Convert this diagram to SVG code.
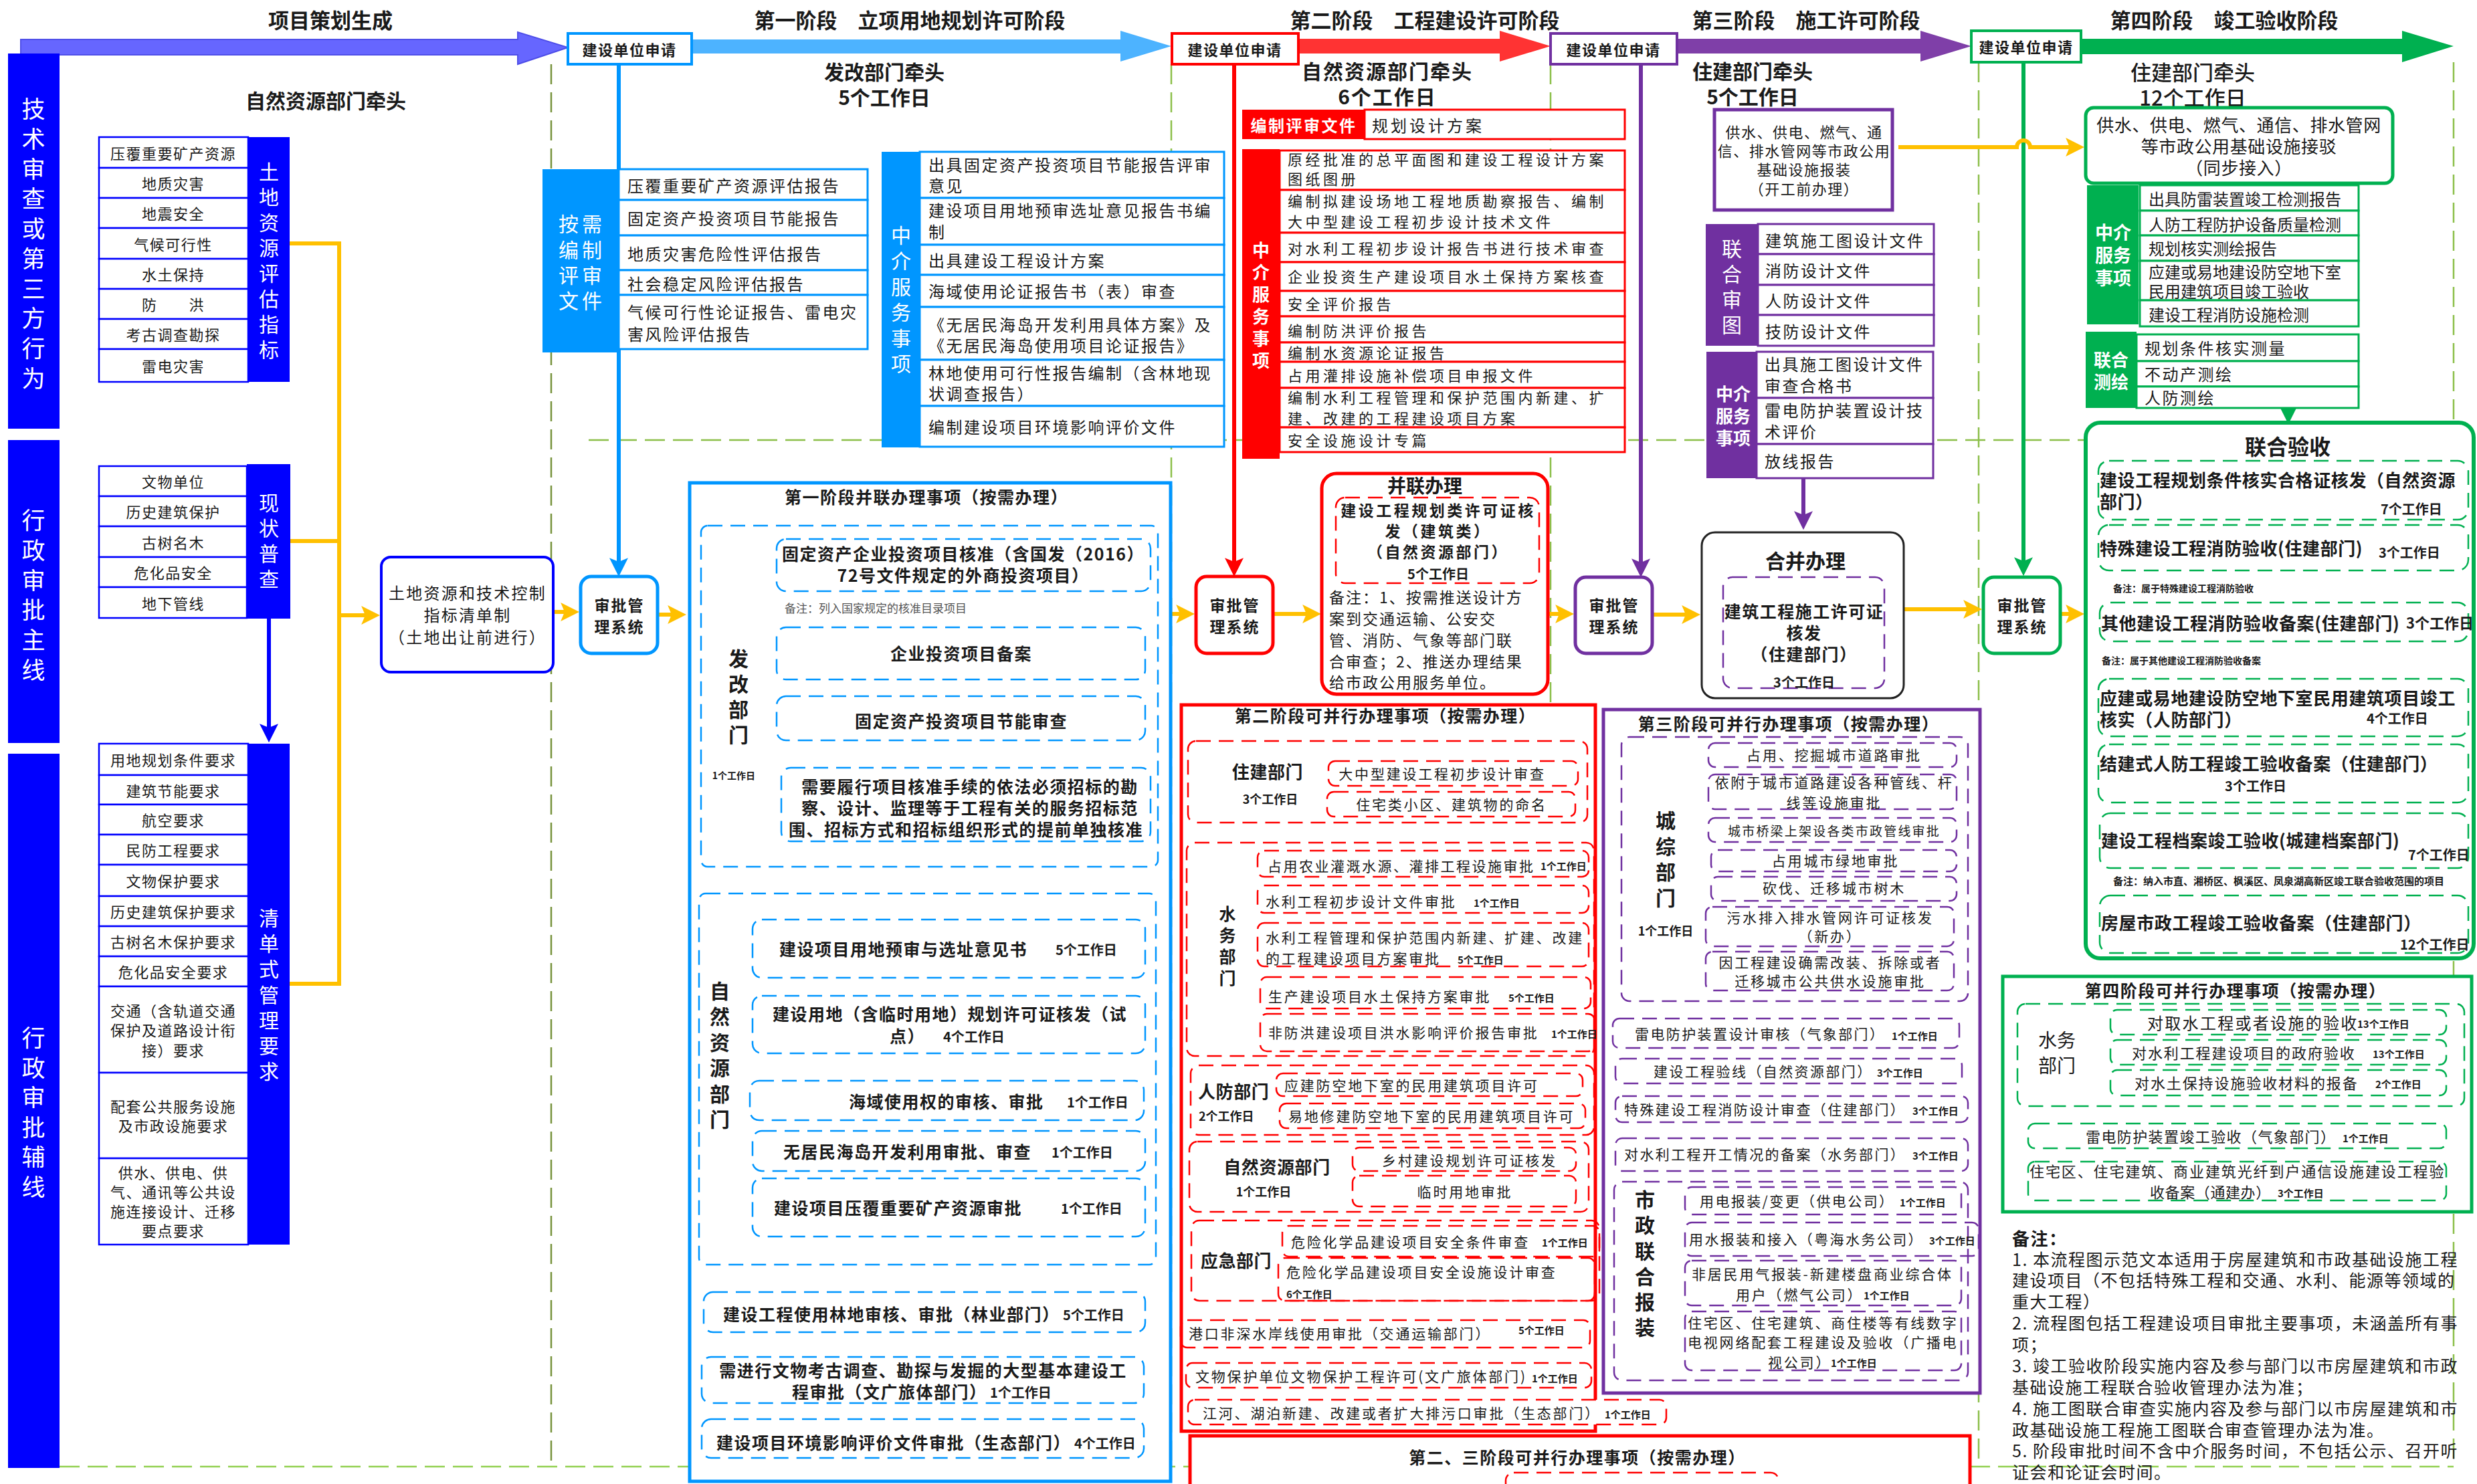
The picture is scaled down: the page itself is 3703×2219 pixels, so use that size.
<svg xmlns="http://www.w3.org/2000/svg" width="3703" height="2219" viewBox="0 0 3703 2219">
<defs>
<style>
text{font-family:"Noto Sans CJK SC","Noto Sans",sans-serif;dominant-baseline:central;fill:#1a1a1a}
.c{text-anchor:middle}
.b{font-weight:bold}
.w{fill:#fff}
.s14{font-size:14px}.s15{font-size:15px}.s17{font-size:17px}.s18{font-size:18px}.s20{font-size:20px}
.s22{font-size:22px;letter-spacing:1.5px}
.s22w{font-size:22px;letter-spacing:4.5px}
.s24{font-size:24px;letter-spacing:2.5px}
.s24n{font-size:24px}
.s21{font-size:21px;letter-spacing:2.8px}
.s19{font-size:19px;letter-spacing:2.2px}
.s23{font-size:23px;letter-spacing:2px}
.s25{font-size:25px;letter-spacing:1.5px}
.s26{font-size:26px;letter-spacing:0.6px}
.s26n{font-size:26px}.s27{font-size:27px}.s28{font-size:28px}.s30{font-size:30px}.s31{font-size:31px}.s32{font-size:32px}.s35{font-size:35px}
.cell{fill:#fff;stroke:#0000FF;stroke-width:2.5}
.lbs{fill:#fff;stroke:#0096FF;stroke-width:3}
.rs{fill:#fff;stroke:#FF0000;stroke-width:3}
.ps{fill:#fff;stroke:#7030A0;stroke-width:3}
.gs{fill:#fff;stroke:#00B050;stroke-width:3}
.dB{fill:none;stroke:#0096FF;stroke-width:2.5;stroke-dasharray:22 12}
.dR{fill:none;stroke:#FF0000;stroke-width:2.5;stroke-dasharray:22 12}
.dP{fill:none;stroke:#7030A0;stroke-width:2.5;stroke-dasharray:22 12}
.dG{fill:none;stroke:#00B050;stroke-width:2.5;stroke-dasharray:22 12}
.sep{fill:none;stroke:#8CBF4A;stroke-width:2.5;stroke-dasharray:30 12}
.ly{fill:none;stroke:#FFC000;stroke-width:6}
.app{fill:#fff;stroke-width:4}
.sys{fill:#fff;stroke-width:5}
</style>
<marker id="aY" viewBox="0 0 12 12" refX="2.5" refY="6" markerWidth="28" markerHeight="28" markerUnits="userSpaceOnUse" orient="auto"><path d="M0,0 L12,6 L0,12 L2.5,6 z" fill="#FFC000"/></marker>
<marker id="aLB" viewBox="0 0 12 12" refX="2.5" refY="6" markerWidth="28" markerHeight="28" markerUnits="userSpaceOnUse" orient="auto"><path d="M0,0 L12,6 L0,12 L2.5,6 z" fill="#0096FF"/></marker>
<marker id="aR" viewBox="0 0 12 12" refX="2.5" refY="6" markerWidth="28" markerHeight="28" markerUnits="userSpaceOnUse" orient="auto"><path d="M0,0 L12,6 L0,12 L2.5,6 z" fill="#FF0000"/></marker>
<marker id="aP" viewBox="0 0 12 12" refX="2.5" refY="6" markerWidth="28" markerHeight="28" markerUnits="userSpaceOnUse" orient="auto"><path d="M0,0 L12,6 L0,12 L2.5,6 z" fill="#7030A0"/></marker>
<marker id="aG" viewBox="0 0 12 12" refX="2.5" refY="6" markerWidth="28" markerHeight="28" markerUnits="userSpaceOnUse" orient="auto"><path d="M0,0 L12,6 L0,12 L2.5,6 z" fill="#00B050"/></marker>
<marker id="aB" viewBox="0 0 12 12" refX="2.5" refY="6" markerWidth="28" markerHeight="28" markerUnits="userSpaceOnUse" orient="auto"><path d="M0,0 L12,6 L0,12 L2.5,6 z" fill="#0000FF"/></marker>
</defs>
<rect width="3703" height="2219" fill="#fff"/>

<g id="separators">
<line class="sep" x1="824" y1="96" x2="824" y2="2193" style="stroke:#77933C"/>
<line class="sep" x1="1751" y1="96" x2="1751" y2="2193"/>
<line class="sep" x1="2318" y1="96" x2="2318" y2="2193"/>
<line class="sep" x1="2958" y1="93" x2="2958" y2="2193"/>
<line class="sep" x1="3668" y1="93" x2="3668" y2="2193"/>
<line class="sep" x1="880" y1="658" x2="3115" y2="658"/>
<line class="sep" x1="89" y1="2193" x2="3668" y2="2193" style="stroke:#92D050"/>
</g>

<g id="header">
<polygon points="31,59 774,59 774,48 849,71 774,96 774,82 31,82" fill="#6666FF" stroke="#4F4FE8" stroke-width="2"/>
<polygon points="1034,59 1675,59 1675,46 1751,69 1675,92 1675,80 1034,80" fill="#4DB3FF"/>
<polygon points="1941,58 2242,58 2242,46 2318,69 2242,92 2242,80 1941,80" fill="#FF3333"/>
<polygon points="2507,58 2871,58 2871,46 2947,69 2871,92 2871,80 2507,80" fill="#7F3FA8"/>
<polygon points="3111,58 3591,58 3591,46 3668,69 3591,93 3591,81 3111,81" fill="#00B050"/>
<text class="c b s31" x="494" y="28">项目策划生成</text>
<text class="c b s31" x="1360" y="28">第一阶段　立项用地规划许可阶段</text>
<text class="c b s31" x="2130" y="28">第二阶段　工程建设许可阶段</text>
<text class="c b s31" x="2700" y="28">第三阶段　施工许可阶段</text>
<text class="c b s31" x="3325" y="28">第四阶段　竣工验收阶段</text>
</g>

<g id="connectors">
<path class="ly" d="M433,364 H507 V1471 H433 M434,809 H507"/>
<path class="ly" d="M507,920 H546" marker-end="url(#aY)"/>
<path class="ly" d="M827,915 H844" marker-end="url(#aY)"/>
<path class="ly" d="M983,919 H1004" marker-end="url(#aY)"/>
<path class="ly" d="M1750,918 H1764" marker-end="url(#aY)"/>
<path class="ly" d="M1903,918 H1953" marker-end="url(#aY)"/>
<path class="ly" d="M2314,918 H2331" marker-end="url(#aY)"/>
<path class="ly" d="M2470,919 H2520" marker-end="url(#aY)"/>
<path class="ly" d="M2846,911 H2941" marker-end="url(#aY)"/>
<path class="ly" d="M3080,918 H3094" marker-end="url(#aY)"/>
<path d="M925,96 V840" fill="none" stroke="#0096FF" stroke-width="6" marker-end="url(#aLB)"/>
<path d="M1845,96 V840" fill="none" stroke="#FF0000" stroke-width="6" marker-end="url(#aR)"/>
<path d="M2453,96 V841" fill="none" stroke="#7030A0" stroke-width="6" marker-end="url(#aP)"/>
<path d="M3025,93 V839" fill="none" stroke="#00B050" stroke-width="6" marker-end="url(#aG)"/>
<path d="M402,925 V1088" fill="none" stroke="#0000FF" stroke-width="6" marker-end="url(#aB)"/>
<path d="M2696,715 V770" fill="none" stroke="#7030A0" stroke-width="6" marker-end="url(#aP)"/>
<path d="M3421,610 V612" fill="none" stroke="#00B050" stroke-width="6" marker-end="url(#aG)"/>
<path class="ly" d="M2838,220 H3015 A10,10 0 0 1 3035,220 H3094" marker-end="url(#aY)"/>
</g>

<g id="lane-tech"><rect x="12" y="80" width="77" height="561" fill="#0000FF"/>
<text class="w c s35"><tspan x="50" y="160">技</tspan><tspan x="50" y="205">术</tspan><tspan x="50" y="250">审</tspan><tspan x="50" y="294">查</tspan><tspan x="50" y="339">或</tspan><tspan x="50" y="384">第</tspan><tspan x="50" y="429">三</tspan><tspan x="50" y="473">方</tspan><tspan x="50" y="518">行</tspan><tspan x="50" y="563">为</tspan></text></g>
<g id="lane-main"><rect x="12" y="658" width="77" height="453" fill="#0000FF"/>
<text class="w c s35"><tspan x="50" y="775">行</tspan><tspan x="50" y="820">政</tspan><tspan x="50" y="865">审</tspan><tspan x="50" y="909">批</tspan><tspan x="50" y="954">主</tspan><tspan x="50" y="999">线</tspan></text></g>
<g id="lane-aux"><rect x="12" y="1127" width="77" height="1068" fill="#0000FF"/>
<text class="w c s35"><tspan x="50" y="1549">行</tspan><tspan x="50" y="1594">政</tspan><tspan x="50" y="1638">审</tspan><tspan x="50" y="1683">批</tspan><tspan x="50" y="1727">辅</tspan><tspan x="50" y="1772">线</tspan></text></g>

<g id="lead0"><text class="c b s30" x="487" y="149">自然资源部门牵头</text></g>

<g id="land-index">
<rect class="cell" x="148" y="205" width="223" height="46"/><rect class="cell" x="148" y="251" width="223" height="45"/><rect class="cell" x="148" y="296" width="223" height="45"/><rect class="cell" x="148" y="341" width="223" height="46"/><rect class="cell" x="148" y="387" width="223" height="45"/><rect class="cell" x="148" y="432" width="223" height="45"/><rect class="cell" x="148" y="477" width="223" height="45"/><rect class="cell" x="148" y="522" width="223" height="49"/>
<rect x="371" y="205" width="62" height="366" fill="#0000FF"/>
<text class="c s22" x="259" y="228">压覆重要矿产资源</text><text class="c s22" x="259" y="273">地质灾害</text><text class="c s22" x="259" y="318">地震安全</text><text class="c s22" x="259" y="364">气候可行性</text><text class="c s22" x="259" y="409">水土保持</text><text class="c s22" x="259" y="454">防　　洪</text><text class="c s22" x="259" y="499">考古调查勘探</text><text class="c s22" x="259" y="546">雷电灾害</text>
<text class="w c s30"><tspan x="402" y="255">土</tspan><tspan x="402" y="293">地</tspan><tspan x="402" y="331">资</tspan><tspan x="402" y="369">源</tspan><tspan x="402" y="407">评</tspan><tspan x="402" y="445">估</tspan><tspan x="402" y="483">指</tspan><tspan x="402" y="521">标</tspan></text>
</g>

<g id="status-survey">
<rect class="cell" x="148" y="697" width="221" height="45"/><rect class="cell" x="148" y="742" width="221" height="45"/><rect class="cell" x="148" y="787" width="221" height="46"/><rect class="cell" x="148" y="833" width="221" height="45"/><rect class="cell" x="148" y="878" width="221" height="46"/>
<rect x="369" y="694" width="65" height="231" fill="#0000FF"/>
<text class="c s22" x="259" y="719">文物单位</text><text class="c s22" x="259" y="764">历史建筑保护</text><text class="c s22" x="259" y="810">古树名木</text><text class="c s22" x="259" y="855">危化品安全</text><text class="c s22" x="259" y="901">地下管线</text>
<text class="w c s30"><tspan x="402" y="750">现</tspan><tspan x="402" y="788">状</tspan><tspan x="402" y="826">普</tspan><tspan x="402" y="864">查</tspan></text>
</g>

<g id="list-requirements">
<rect class="cell" x="148" y="1112" width="223" height="47"/><rect class="cell" x="148" y="1159" width="223" height="44"/><rect class="cell" x="148" y="1203" width="223" height="45"/><rect class="cell" x="148" y="1248" width="223" height="45"/><rect class="cell" x="148" y="1293" width="223" height="47"/><rect class="cell" x="148" y="1340" width="223" height="45"/><rect class="cell" x="148" y="1385" width="223" height="45"/><rect class="cell" x="148" y="1430" width="223" height="45"/><rect class="cell" x="148" y="1475" width="223" height="129"/><rect class="cell" x="148" y="1604" width="223" height="128"/><rect class="cell" x="148" y="1732" width="223" height="129"/>
<rect x="371" y="1112" width="62" height="749" fill="#0000FF"/>
<text class="c s22" x="259" y="1135">用地规划条件要求</text><text class="c s22" x="259" y="1181">建筑节能要求</text><text class="c s22" x="259" y="1225">航空要求</text><text class="c s22" x="259" y="1270">民防工程要求</text><text class="c s22" x="259" y="1316">文物保护要求</text><text class="c s22" x="259" y="1362">历史建筑保护要求</text><text class="c s22" x="259" y="1407">古树名木保护要求</text><text class="c s22" x="259" y="1452">危化品安全要求</text>
<text class="c s22"><tspan x="259" y="1510">交通（含轨道交通</tspan><tspan x="259" y="1539">保护及道路设计衔</tspan><tspan x="259" y="1569">接）要求</tspan></text>
<text class="c s22"><tspan x="259" y="1653">配套公共服务设施</tspan><tspan x="259" y="1682">及市政设施要求</tspan></text>
<text class="c s22"><tspan x="259" y="1752">供水、供电、供</tspan><tspan x="259" y="1781">气、通讯等公共设</tspan><tspan x="259" y="1810">施连接设计、迁移</tspan><tspan x="259" y="1839">要点要求</tspan></text>
<text class="w c s30"><tspan x="402" y="1371">清</tspan><tspan x="402" y="1409">单</tspan><tspan x="402" y="1447">式</tspan><tspan x="402" y="1486">管</tspan><tspan x="402" y="1524">理</tspan><tspan x="402" y="1562">要</tspan><tspan x="402" y="1600">求</tspan></text>
</g>

<g id="checklist-box"><rect x="570" y="833" width="257" height="172" rx="14" fill="#fff" stroke="#0000FF" stroke-width="4"/>
<text class="c" style="font-size:24px;letter-spacing:2.2px"><tspan x="699" y="885">土地资源和技术控制</tspan><tspan x="699" y="918">指标清单制</tspan><tspan x="699" y="951">（土地出让前进行）</tspan></text></g>

<g id="apply1"><rect class="app" x="849" y="50" width="185" height="46" stroke="#0096FF"/><text class="c b s22" x="941" y="73">建设单位申请</text></g>
<g id="apply2"><rect class="app" x="1752" y="50" width="189" height="46" stroke="#FF0000"/><text class="c b s22" x="1846" y="73">建设单位申请</text></g>
<g id="apply3"><rect class="app" x="2318" y="50" width="189" height="46" stroke="#7030A0"/><text class="c b s22" x="2412" y="73">建设单位申请</text></g>
<g id="apply4"><rect class="app" x="2947" y="46" width="164" height="47" stroke="#00B050"/><text class="c b s22" x="3029" y="69">建设单位申请</text></g>

<g id="sys1"><rect class="sys" x="868" y="862" width="115" height="115" rx="16" stroke="#0096FF"/><text class="c b s23"><tspan x="926" y="904">审批管</tspan><tspan x="926" y="936">理系统</tspan></text></g>
<g id="sys2"><rect class="sys" x="1788" y="862" width="115" height="115" rx="16" stroke="#FF0000"/><text class="c b s23"><tspan x="1846" y="904">审批管</tspan><tspan x="1846" y="936">理系统</tspan></text></g>
<g id="sys3"><rect class="sys" x="2355" y="863" width="115" height="114" rx="16" stroke="#7030A0"/><text class="c b s23"><tspan x="2413" y="904">审批管</tspan><tspan x="2413" y="936">理系统</tspan></text></g>
<g id="sys4"><rect class="sys" x="2965" y="863" width="115" height="114" rx="16" stroke="#00B050"/><text class="c b s23"><tspan x="3023" y="904">审批管</tspan><tspan x="3023" y="936">理系统</tspan></text></g>

<g id="lead1"><text class="c b s30"><tspan x="1322" y="106">发改部门牵头</tspan><tspan x="1322" y="144">5个工作日</tspan></text></g>

<g id="s1-docs">
<rect x="811" y="253" width="114" height="274" fill="#0096FF"/>
<text class="w c s30" style="letter-spacing:5px"><tspan x="870" y="333">按需</tspan><tspan x="870" y="372">编制</tspan><tspan x="870" y="410">评审</tspan><tspan x="870" y="448">文件</tspan></text>
<rect class="lbs" x="925" y="253" width="372" height="46"/><rect class="lbs" x="925" y="299" width="372" height="53"/><rect class="lbs" x="925" y="352" width="372" height="52"/><rect class="lbs" x="925" y="404" width="372" height="37"/><rect class="lbs" x="925" y="441" width="372" height="81"/>
<text class="s24" x="938" y="276">压覆重要矿产资源评估报告</text><text class="s24" x="938" y="325">固定资产投资项目节能报告</text><text class="s24" x="938" y="378">地质灾害危险性评估报告</text><text class="s24" x="938" y="423">社会稳定风险评估报告</text>
<text class="s24"><tspan x="938" y="465">气候可行性论证报告、雷电灾</tspan><tspan x="938" y="498">害风险评估报告</tspan></text>
</g>

<g id="s1-agency">
<rect x="1318" y="227" width="57" height="442" fill="#0096FF"/>
<text class="w c s30"><tspan x="1347" y="350">中</tspan><tspan x="1347" y="388">介</tspan><tspan x="1347" y="427">服</tspan><tspan x="1347" y="465">务</tspan><tspan x="1347" y="504">事</tspan><tspan x="1347" y="542">项</tspan></text>
<rect class="lbs" x="1375" y="227" width="455" height="69"/><rect class="lbs" x="1375" y="296" width="455" height="70"/><rect class="lbs" x="1375" y="366" width="455" height="45"/><rect class="lbs" x="1375" y="411" width="455" height="48"/><rect class="lbs" x="1375" y="459" width="455" height="79"/><rect class="lbs" x="1375" y="538" width="455" height="69"/><rect class="lbs" x="1375" y="607" width="455" height="61"/>
<text class="s24"><tspan x="1388" y="245">出具固定资产投资项目节能报告评审</tspan><tspan x="1388" y="276">意见</tspan></text>
<text class="s24"><tspan x="1388" y="313">建设项目用地预审选址意见报告书编</tspan><tspan x="1388" y="345">制</tspan></text>
<text class="s24" x="1388" y="388">出具建设工程设计方案</text>
<text class="s24" x="1388" y="434">海域使用论证报告书（表）审查</text>
<text class="s24"><tspan x="1388" y="484">《无居民海岛开发利用具体方案》及</tspan><tspan x="1388" y="515">《无居民海岛使用项目论证报告》</tspan></text>
<text class="s24"><tspan x="1388" y="556">林地使用可行性报告编制（含林地现</tspan><tspan x="1388" y="587">状调查报告）</tspan></text>
<text class="s24" x="1388" y="637">编制建设项目环境影响评价文件</text>
</g>

<g id="s1-parallel">
<rect x="1031" y="722" width="719" height="1493" fill="#fff" stroke="#0096FF" stroke-width="5"/>
<text class="c b s25" x="1385" y="742">第一阶段并联办理事项（按需办理）</text>
<rect class="dB" x="1048" y="786" width="683" height="510" rx="10"/>
<text class="c b s30"><tspan x="1104" y="983">发</tspan><tspan x="1104" y="1021">改</tspan><tspan x="1104" y="1059">部</tspan><tspan x="1104" y="1097">门</tspan></text>
<text class="c b s14" x="1097" y="1159">1个工作日</text>
<rect class="dB" x="1161" y="806" width="559" height="78" rx="14"/>
<text class="c b s25"><tspan x="1440" y="827">固定资产企业投资项目核准（含国发（2016）</tspan><tspan x="1440" y="859">72号文件规定的外商投资项目）</tspan></text>
<text class="s17" x="1173" y="908" style="fill:#555">备注：列入国家规定的核准目录项目</text>
<rect class="dB" x="1161" y="938" width="551" height="78" rx="14"/><text class="c b s25" x="1437" y="976">企业投资项目备案</text>
<rect class="dB" x="1161" y="1041" width="551" height="66" rx="14"/><text class="c b s25" x="1437" y="1077">固定资产投资项目节能审查</text>
<rect class="dB" x="1168" y="1148" width="552" height="110" rx="14"/>
<text class="c b s25"><tspan x="1450" y="1175">需要履行项目核准手续的依法必须招标的勘</tspan><tspan x="1450" y="1207">察、设计、监理等于工程有关的服务招标范</tspan><tspan x="1444" y="1239">围、招标方式和招标组织形式的提前单独核准</tspan></text>
<rect class="dB" x="1045" y="1336" width="683" height="555" rx="10"/>
<text class="c b s30"><tspan x="1076" y="1480">自</tspan><tspan x="1076" y="1518">然</tspan><tspan x="1076" y="1557">资</tspan><tspan x="1076" y="1595">源</tspan><tspan x="1076" y="1634">部</tspan><tspan x="1076" y="1672">门</tspan></text>
<rect class="dB" x="1125" y="1375" width="587" height="87" rx="14"/><text class="b s25" x="1165" y="1418">建设项目用地预审与选址意见书</text><text class="b s20" x="1578" y="1419">5个工作日</text>
<rect class="dB" x="1125" y="1489" width="587" height="86" rx="14"/><text class="b s25"><tspan class="c" x="1420" y="1515">建设用地（含临时用地）规划许可证核发（试</tspan><tspan x="1330" y="1548">点）</tspan></text><text class="b s20" x="1410" y="1549">4个工作日</text>
<rect class="dB" x="1121" y="1616" width="589" height="59" rx="14"/><text class="b s25" x="1269" y="1646">海域使用权的审核、审批</text><text class="b s20" x="1595" y="1647">1个工作日</text>
<rect class="dB" x="1125" y="1691" width="587" height="60" rx="14"/><text class="b s25" x="1171" y="1721">无居民海岛开发利用审批、审查</text><text class="b s20" x="1572" y="1722">1个工作日</text>
<rect class="dB" x="1125" y="1762" width="587" height="87" rx="14"/><text class="b s25" x="1157" y="1805">建设项目压覆重要矿产资源审批</text><text class="b s20" x="1586" y="1806">1个工作日</text>
<rect class="dB" x="1052" y="1932" width="660" height="60" rx="14"/><text class="b s25" x="1081" y="1964">建设工程使用林地审核、审批（林业部门）</text><text class="b s20" x="1589" y="1965">5个工作日</text>
<rect class="dB" x="1049" y="2029" width="661" height="69" rx="14"/><text class="b s25"><tspan class="c" x="1380" y="2048">需进行文物考古调查、勘探与发掘的大型基本建设工</tspan><tspan x="1184" y="2080">程审批（文广旅体部门）</tspan></text><text class="b s20" x="1480" y="2081">1个工作日</text>
<rect class="dB" x="1049" y="2122" width="661" height="58" rx="14"/><text class="b s25" x="1071" y="2156">建设项目环境影响评价文件审批（生态部门）</text><text class="b s20" x="1606" y="2157">4个工作日</text>
</g>

<g id="lead2"><text class="c b s30" style="letter-spacing:2px"><tspan x="2074" y="105">自然资源部门牵头</tspan><tspan x="2074" y="143">6个工作日</tspan></text></g>

<g id="s2-docs">
<rect x="1857" y="164" width="183" height="44" fill="#FF0000"/><text class="w c b s24" x="1949" y="186">编制评审文件</text>
<rect class="rs" x="2040" y="164" width="389" height="44"/><text class="s24" x="2051" y="186" style="letter-spacing:4px">规划设计方案</text>
</g>

<g id="s2-agency">
<rect x="1857" y="223" width="56" height="463" fill="#FF0000"/>
<text class="w c b s26n"><tspan x="1885" y="372">中</tspan><tspan x="1885" y="405">介</tspan><tspan x="1885" y="438">服</tspan><tspan x="1885" y="471">务</tspan><tspan x="1885" y="504">事</tspan><tspan x="1885" y="537">项</tspan></text>
<rect class="rs" x="1913" y="225" width="516" height="59"/><rect class="rs" x="1913" y="284" width="516" height="64"/><rect class="rs" x="1913" y="348" width="516" height="44"/><rect class="rs" x="1913" y="392" width="516" height="43"/><rect class="rs" x="1913" y="435" width="516" height="38"/><rect class="rs" x="1913" y="473" width="516" height="39"/><rect class="rs" x="1913" y="512" width="516" height="29"/><rect class="rs" x="1913" y="541" width="516" height="39"/><rect class="rs" x="1913" y="580" width="516" height="59"/><rect class="rs" x="1913" y="639" width="516" height="37"/>
<text class="s22w"><tspan x="1925" y="237">原经批准的总平面图和建设工程设计方案</tspan><tspan x="1925" y="266">图纸图册</tspan></text>
<text class="s22w"><tspan x="1925" y="299">编制拟建设场地工程地质勘察报告、编制</tspan><tspan x="1925" y="330">大中型建设工程初步设计技术文件</tspan></text>
<text class="s22w" x="1925" y="370">对水利工程初步设计报告书进行技术审查</text>
<text class="s22w" x="1925" y="412">企业投资生产建设项目水土保持方案核查</text>
<text class="s22w" x="1925" y="453">安全评价报告</text>
<text class="s22w" x="1925" y="493">编制防洪评价报告</text>
<text class="s22w" x="1925" y="526">编制水资源论证报告</text>
<text class="s22w" x="1925" y="560">占用灌排设施补偿项目申报文件</text>
<text class="s22w"><tspan x="1925" y="593">编制水利工程管理和保护范围内新建、扩</tspan><tspan x="1925" y="624">建、改建的工程建设项目方案</tspan></text>
<text class="s22w" x="1925" y="657">安全设施设计专篇</text>
</g>

<g id="s2-joint">
<rect x="1976" y="708" width="338" height="330" rx="22" fill="#fff" stroke="#FF0000" stroke-width="5"/>
<text class="c b s28" x="2130" y="725">并联办理</text>
<rect class="dR" x="1997" y="744" width="304" height="128" rx="14"/>
<text class="c b" style="font-size:23px;letter-spacing:3.5px"><tspan x="2150" y="762">建设工程规划类许可证核</tspan><tspan x="2150" y="793">发（建筑类）</tspan><tspan x="2150" y="824">（自然资源部门）</tspan><tspan x="2150" y="857" style="font-size:20px;letter-spacing:0">5个工作日</tspan></text>
<text class="s23"><tspan x="1987" y="892">备注：1、按需推送设计方</tspan><tspan x="1987" y="924">案到交通运输、公安交</tspan><tspan x="1987" y="956">管、消防、气象等部门联</tspan><tspan x="1987" y="988">合审查；2、推送办理结果</tspan><tspan x="1987" y="1019">给市政公用服务单位。</tspan></text>
</g>

<g id="s2-parallel">
<rect x="1766" y="1054" width="619" height="1086" fill="#fff" stroke="#FF0000" stroke-width="5"/>
<text class="c b s25" x="2071" y="1069">第二阶段可并行办理事项（按需办理）</text>
<rect class="dR" x="1776" y="1108" width="597" height="122" rx="12"/>
<text class="c b s26" x="1895" y="1152">住建部门</text><text class="c b s18" x="1899" y="1194">3个工作日</text>
<rect class="dR" x="1986" y="1138" width="373" height="37" rx="10"/><text class="c s21" x="2156" y="1156">大中型建设工程初步设计审查</text>
<rect class="dR" x="1984" y="1184" width="371" height="37" rx="10"/><text class="c s21" x="2170" y="1202">住宅类小区、建筑物的命名</text>
<rect class="dR" x="1774" y="1260" width="609" height="319" rx="12"/>
<text class="c b" style="font-size:25px"><tspan x="1835" y="1365">水</tspan><tspan x="1835" y="1397">务</tspan><tspan x="1835" y="1429">部</tspan><tspan x="1835" y="1461">门</tspan></text>
<rect class="dR" x="1880" y="1272" width="495" height="39" rx="10"/><text class="s21" x="1895" y="1294" style="letter-spacing:2.5px">占用农业灌溉水源、灌排工程设施审批</text><text class="b s15" x="2303" y="1294">1个工作日</text>
<rect class="dR" x="1880" y="1324" width="495" height="41" rx="10"/><text class="s21" x="1892" y="1347">水利工程初步设计文件审批</text><text class="b s15" x="2203" y="1349">1个工作日</text>
<rect class="dR" x="1880" y="1380" width="495" height="65" rx="10"/><text class="s21"><tspan x="1892" y="1401">水利工程管理和保护范围内新建、扩建、改建</tspan><tspan x="1892" y="1432">的工程建设项目方案审批</tspan></text><text class="b s15" x="2179" y="1434">5个工作日</text>
<rect class="dR" x="1884" y="1461" width="494" height="47" rx="10"/><text class="s21" x="1896" y="1489">生产建设项目水土保持方案审批</text><text class="b s15" x="2255" y="1491">5个工作日</text>
<rect class="dR" x="1884" y="1516" width="500" height="56" rx="10"/><text class="s21" x="1896" y="1543">非防洪建设项目洪水影响评价报告审批</text><text class="b s15" x="2319" y="1545">1个工作日</text>
<rect class="dR" x="1780" y="1593" width="603" height="104" rx="12"/>
<text class="b s26" x="1791" y="1630">人防部门</text><text class="b s18" x="1792" y="1668">2个工作日</text>
<rect class="dR" x="1908" y="1605" width="458" height="34" rx="10"/><text class="s21" x="1920" y="1622">应建防空地下室的民用建筑项目许可</text>
<rect class="dR" x="1913" y="1650" width="457" height="37" rx="10"/><text class="s21" x="1926" y="1668">易地修建防空地下室的民用建筑项目许可</text>
<rect class="dR" x="1778" y="1707" width="597" height="105" rx="12"/>
<text class="c b s26" x="1909" y="1743">自然资源部门</text><text class="c b s18" x="1889" y="1781">1个工作日</text>
<rect class="dR" x="2022" y="1716" width="334" height="35" rx="10"/><text class="c s21" x="2197" y="1734">乡村建设规划许可证核发</text>
<rect class="dR" x="2022" y="1758" width="334" height="46" rx="10"/><text class="c s21" x="2190" y="1781">临时用地审批</text>
<rect class="dR" x="1781" y="1825" width="610" height="120" rx="12"/>
<text class="c b s26" x="1848" y="1883">应急部门</text>
<rect class="dR" x="1917" y="1833" width="474" height="46" rx="10"/><text class="s21" x="1930" y="1856">危险化学品建设项目安全条件审查</text><text class="b s15" x="2305" y="1857">1个工作日</text>
<rect class="dR" x="1911" y="1881" width="473" height="64" rx="10"/><text class="s21"><tspan x="1923" y="1901">危险化学品建设项目安全设施设计审查</tspan><tspan class="b s15" x="1923" y="1934" style="letter-spacing:0">6个工作日</tspan></text>
<rect class="dR" x="1765" y="1974" width="612" height="41" rx="10"/><text class="s21" x="1777" y="1993">港口非深水岸线使用审批（交通运输部门）</text><text class="b s15" x="2270" y="1988">5个工作日</text>
<rect class="dR" x="1773" y="2038" width="606" height="37" rx="10"/><text class="s21" x="1787" y="2057">文物保护单位文物保护工程许可(文广旅体部门)</text><text class="b s15" x="2290" y="2060">1个工作日</text>
<rect class="dR" x="1776" y="2093" width="715" height="37" rx="10" style="fill:#fff"/><text class="s21" x="1798" y="2112">江河、湖泊新建、改建或者扩大排污口审批（生态部门）</text><text class="b s15" x="2399" y="2114">1个工作日</text>
</g>

<g id="s23-parallel">
<rect x="1779" y="2147" width="1166" height="120" fill="#fff" stroke="#FF0000" stroke-width="5"/>
<text class="c b s25" x="2358" y="2178">第二、三阶段可并行办理事项（按需办理）</text>
<rect class="dR" x="2251" y="2202" width="408" height="60" rx="12"/>
</g>

<g id="lead3"><text class="c b s30"><tspan x="2620" y="105">住建部门牵头</tspan><tspan x="2620" y="143">5个工作日</tspan></text></g>

<g id="s3-utility"><rect x="2563" y="164" width="266" height="150" fill="#fff" stroke="#7030A0" stroke-width="5"/>
<text class="c s22"><tspan x="2697" y="196">供水、供电、燃气、通</tspan><tspan x="2697" y="224">信、排水管网等市政公用</tspan><tspan x="2697" y="252">基础设施报装</tspan><tspan x="2697" y="281">（开工前办理）</tspan></text></g>

<g id="s3-review">
<rect x="2550" y="335" width="78" height="182" fill="#7030A0"/>
<text class="w c s30"><tspan x="2589" y="370">联</tspan><tspan x="2589" y="408">合</tspan><tspan x="2589" y="446">审</tspan><tspan x="2589" y="484">图</tspan></text>
<rect class="ps" x="2628" y="335" width="263" height="45"/><rect class="ps" x="2628" y="380" width="263" height="46"/><rect class="ps" x="2628" y="426" width="263" height="45"/><rect class="ps" x="2628" y="471" width="263" height="46"/>
<text class="s24" x="2639" y="358">建筑施工图设计文件</text><text class="s24" x="2639" y="403">消防设计文件</text><text class="s24" x="2639" y="448">人防设计文件</text><text class="s24" x="2639" y="494">技防设计文件</text>
</g>

<g id="s3-agency">
<rect x="2551" y="526" width="75" height="189" fill="#7030A0"/>
<text class="w c b s26n"><tspan x="2591" y="587">中介</tspan><tspan x="2591" y="620">服务</tspan><tspan x="2591" y="653">事项</tspan></text>
<rect class="ps" x="2626" y="526" width="264" height="69"/><rect class="ps" x="2626" y="595" width="264" height="69"/><rect class="ps" x="2626" y="664" width="264" height="51"/>
<text class="s24"><tspan x="2638" y="543">出具施工图设计文件</tspan><tspan x="2638" y="575">审查合格书</tspan></text><text class="s24"><tspan x="2638" y="612">雷电防护装置设计技</tspan><tspan x="2638" y="644">术评价</tspan></text><text class="s24" x="2638" y="688">放线报告</text>
</g>

<g id="s3-merge">
<rect x="2544" y="796" width="302" height="248" rx="20" fill="#fff" stroke="#222" stroke-width="3"/>
<text class="c b s30" x="2699" y="837">合并办理</text>
<rect class="dP" x="2576" y="863" width="241" height="166" rx="14"/>
<text class="c b s25"><tspan x="2697" y="913">建筑工程施工许可证</tspan><tspan x="2697" y="945">核发</tspan><tspan x="2697" y="977">（住建部门）</tspan><tspan x="2697" y="1019" style="font-size:20px;letter-spacing:0">3个工作日</tspan></text>
</g>

<g id="s3-parallel">
<rect x="2397" y="1061" width="563" height="1022" fill="#fff" stroke="#7030A0" stroke-width="5"/>
<text class="c b s25" x="2674" y="1081">第三阶段可并行办理事项（按需办理）</text>
<rect class="dP" x="2424" y="1102" width="518" height="395" rx="12"/>
<text class="c b s30"><tspan x="2490" y="1225">城</tspan><tspan x="2490" y="1264">综</tspan><tspan x="2490" y="1302">部</tspan><tspan x="2490" y="1341">门</tspan></text>
<text class="c b s18" x="2490" y="1391">1个工作日</text>
<rect class="dP" x="2554" y="1111" width="371" height="36" rx="10"/><text class="c s21" x="2742" y="1128">占用、挖掘城市道路审批</text>
<rect class="dP" x="2554" y="1158" width="371" height="52" rx="10"/><text class="c s21"><tspan x="2742" y="1169">依附于城市道路建设各种管线、杆</tspan><tspan x="2742" y="1199">线等设施审批</tspan></text>
<rect class="dP" x="2554" y="1223" width="371" height="36" rx="10"/><text class="c s19" x="2742" y="1241">城市桥梁上架设各类市政管线审批</text>
<rect class="dP" x="2558" y="1271" width="367" height="32" rx="10"/><text class="c s21" x="2744" y="1286">占用城市绿地审批</text>
<rect class="dP" x="2558" y="1311" width="367" height="36" rx="10"/><text class="c s21" x="2742" y="1327">砍伐、迁移城市树木</text>
<rect class="dP" x="2550" y="1356" width="371" height="59" rx="10"/><text class="c s21"><tspan x="2736" y="1371">污水排入排水管网许可证核发</tspan><tspan x="2736" y="1399">（新办）</tspan></text>
<rect class="dP" x="2550" y="1423" width="371" height="58" rx="10"/><text class="c s21"><tspan x="2736" y="1438">因工程建设确需改装、拆除或者</tspan><tspan x="2736" y="1466">迁移城市公共供水设施审批</tspan></text>
<rect class="dP" x="2411" y="1523" width="518" height="44" rx="10"/><text class="s21" x="2444" y="1545" style="letter-spacing:2.4px">雷电防护装置设计审核（气象部门）</text><text class="b s15" x="2828" y="1548">1个工作日</text>
<rect class="dP" x="2415" y="1583" width="518" height="37" rx="10"/><text class="s21" x="2472" y="1601" style="letter-spacing:2.4px">建设工程验线（自然资源部门）</text><text class="b s15" x="2806" y="1603">3个工作日</text>
<rect class="dP" x="2415" y="1639" width="527" height="39" rx="10"/><text class="s21" x="2428" y="1658" style="letter-spacing:2.4px">特殊建设工程消防设计审查（住建部门）</text><text class="b s15" x="2859" y="1660">3个工作日</text>
<rect class="dP" x="2415" y="1702" width="527" height="49" rx="10"/><text class="s21" x="2428" y="1725" style="letter-spacing:2.4px">对水利工程开工情况的备案（水务部门）</text><text class="b s15" x="2859" y="1727">3个工作日</text>
<rect class="dP" x="2413" y="1767" width="529" height="297" rx="12"/>
<text class="c b s30"><tspan x="2459" y="1792">市</tspan><tspan x="2459" y="1830">政</tspan><tspan x="2459" y="1869">联</tspan><tspan x="2459" y="1907">合</tspan><tspan x="2459" y="1945">报</tspan><tspan x="2459" y="1983">装</tspan></text>
<rect class="dP" x="2519" y="1775" width="413" height="41" rx="10"/><text class="s21" x="2541" y="1795" style="letter-spacing:2.4px">用电报装/变更（供电公司）</text><text class="b s15" x="2840" y="1797">1个工作日</text>
<rect class="dP" x="2519" y="1828" width="439" height="50" rx="10"/><text class="s21" x="2525" y="1852" style="letter-spacing:2.4px">用水报装和接入（粤海水务公司）</text><text class="b s15" x="2884" y="1854">3个工作日</text>
<rect class="dP" x="2519" y="1885" width="413" height="67" rx="10"/><text class="s21"><tspan x="2529" y="1904">非居民用气报装-新建楼盘商业综合体</tspan><tspan x="2595" y="1935">用户（燃气公司）</tspan></text><text class="b s15" x="2786" y="1936">1个工作日</text>
<rect class="dP" x="2519" y="1961" width="413" height="88" rx="10"/><text class="s21"><tspan x="2523" y="1977">住宅区、住宅建筑、商住楼等有线数字</tspan><tspan x="2523" y="2006">电视网络配套工程建设及验收（广播电</tspan><tspan x="2643" y="2036">视公司）</tspan></text><text class="b s15" x="2737" y="2037">1个工作日</text>
</g>

<g id="lead4"><text class="c s31" style="font-weight:500"><tspan x="3278" y="106">住建部门牵头</tspan><tspan x="3278" y="144">12个工作日</tspan></text></g>

<g id="s4-utility"><rect x="3118" y="161" width="459" height="113" rx="12" fill="#fff" stroke="#00B050" stroke-width="5"/>
<text class="c s26"><tspan x="3347" y="185">供水、供电、燃气、通信、排水管网</tspan><tspan x="3347" y="217">等市政公用基础设施接驳</tspan><tspan x="3347" y="249">（同步接入）</tspan></text></g>

<g id="s4-agency">
<rect x="3120" y="277" width="77" height="208" fill="#00B050"/>
<text class="w c b s27"><tspan x="3159" y="346">中介</tspan><tspan x="3159" y="380">服务</tspan><tspan x="3159" y="414">事项</tspan></text>
<rect class="gs" x="3199" y="277" width="327" height="38"/><rect class="gs" x="3199" y="315" width="327" height="37"/><rect class="gs" x="3199" y="352" width="327" height="38"/><rect class="gs" x="3199" y="390" width="327" height="59"/><rect class="gs" x="3199" y="449" width="327" height="39"/>
<text class="s24n" x="3212" y="296">出具防雷装置竣工检测报告</text><text class="s24n" x="3212" y="334">人防工程防护设备质量检测</text><text class="s24n" x="3212" y="370">规划核实测绘报告</text><text class="s24n"><tspan x="3212" y="405">应建或易地建设防空地下室</tspan><tspan x="3212" y="434">民用建筑项目竣工验收</tspan></text><text class="s24n" x="3212" y="469">建设工程消防设施检测</text>
</g>

<g id="s4-survey">
<rect x="3118" y="496" width="76" height="114" fill="#00B050"/>
<text class="w c b s26n"><tspan x="3156" y="536">联合</tspan><tspan x="3156" y="569">测绘</tspan></text>
<rect class="gs" x="3194" y="500" width="332" height="40"/><rect class="gs" x="3194" y="540" width="332" height="38"/><rect class="gs" x="3194" y="578" width="332" height="32"/>
<text class="s24" x="3206" y="519">规划条件核实测量</text><text class="s24" x="3206" y="558">不动产测绘</text><text class="s24" x="3206" y="593">人防测绘</text>
</g>

<g id="s4-acceptance">
<rect x="3118" y="632" width="580" height="801" rx="22" fill="#fff" stroke="#00B050" stroke-width="6"/>
<text class="c b s32" x="3420" y="666">联合验收</text>
<rect class="dG" x="3137" y="689" width="553" height="88" rx="16"/><text class="b s26"><tspan x="3139" y="716">建设工程规划条件核实合格证核发（自然资源</tspan><tspan x="3139" y="748">部门）</tspan></text><text class="b s20" x="3559" y="760">7个工作日</text>
<rect class="dG" x="3137" y="785" width="553" height="68" rx="16"/><text class="b s26" x="3139" y="818">特殊建设工程消防验收(住建部门)</text><text class="b s20" x="3556" y="825">3个工作日</text>
<text class="b s14" x="3159" y="879">备注：属于特殊建设工程消防验收</text>
<rect class="dG" x="3139" y="901" width="551" height="58" rx="16"/><text class="b s26" x="3141" y="930">其他建设工程消防验收备案(住建部门)</text><text class="b s22" x="3597" y="930" style="letter-spacing:0">3个工作日</text>
<text class="b s14" x="3142" y="987">备注：属于其他建设工程消防验收备案</text>
<rect class="dG" x="3137" y="1015" width="553" height="86" rx="16"/><text class="b s26"><tspan x="3139" y="1042">应建或易地建设防空地下室民用建筑项目竣工</tspan><tspan x="3139" y="1074">核实（人防部门）</tspan></text><text class="b s20" x="3538" y="1073">4个工作日</text>
<rect class="dG" x="3137" y="1113" width="553" height="87" rx="16"/><text class="b s26" x="3139" y="1140">结建式人防工程竣工验收备案（住建部门）</text><text class="c b s20" x="3372" y="1174">3个工作日</text>
<rect class="dG" x="3139" y="1216" width="551" height="82" rx="16"/><text class="b s26" x="3141" y="1255">建设工程档案竣工验收(城建档案部门)</text><text class="b s20" x="3600" y="1277">7个工作日</text>
<text class="b s15" x="3159" y="1316">备注：纳入市直、湘桥区、枫溪区、凤泉湖高新区竣工联合验收范围的项目</text>
<rect class="dG" x="3139" y="1339" width="551" height="86" rx="16"/><text class="b s26" x="3141" y="1378">房屋市政工程竣工验收备案（住建部门）</text><text class="b s20" x="3588" y="1411">12个工作日</text>
</g>

<g id="s4-parallel">
<rect x="2994" y="1460" width="701" height="352" fill="#fff" stroke="#00B050" stroke-width="5"/>
<text class="c b s25" x="3342" y="1480">第四阶段可并行办理事项（按需办理）</text>
<rect class="dG" x="3016" y="1501" width="668" height="153" rx="12"/>
<text class="c s28"><tspan x="3075" y="1554">水务</tspan><tspan x="3075" y="1592">部门</tspan></text>
<rect class="dG" x="3155" y="1510" width="502" height="37" rx="10"/><text class="s24n" x="3210" y="1528" style="letter-spacing:2.3px">对取水工程或者设施的验收</text><text class="b s15" x="3524" y="1530">13个工作日</text>
<rect class="dG" x="3155" y="1555" width="502" height="37" rx="10"/><text x="3187" y="1573" style="font-size:22px;letter-spacing:1.9px">对水利工程建设项目的政府验收</text><text class="b s15" x="3547" y="1575">13个工作日</text>
<rect class="dG" x="3155" y="1600" width="502" height="38" rx="10"/><text x="3191" y="1618" style="font-size:22px;letter-spacing:1.9px">对水土保持设施验收材料的报备</text><text class="b s15" x="3551" y="1620">2个工作日</text>
<rect class="dG" x="3032" y="1680" width="625" height="37" rx="10"/><text x="3118" y="1698" style="font-size:22px;letter-spacing:1.4px">雷电防护装置竣工验收（气象部门）</text><text class="b s15" x="3502" y="1701">1个工作日</text>
<rect class="dG" x="3032" y="1737" width="625" height="58" rx="10"/><text style="font-size:22px;letter-spacing:1.9px"><tspan x="3034" y="1750">住宅区、住宅建筑、商业建筑光纤到户通信设施建设工程验</tspan><tspan x="3214" y="1781" style="letter-spacing:0.6px">收备案（通建办）</tspan></text><text class="b s15" x="3405" y="1783">3个工作日</text>
</g>

<g id="notes">
<text class="s25"><tspan class="b" x="3008" y="1850" style="font-size:26px">备注：</tspan><tspan x="3008" y="1882">1. 本流程图示范文本适用于房屋建筑和市政基础设施工程</tspan><tspan x="3008" y="1913">建设项目（不包括特殊工程和交通、水利、能源等领域的</tspan><tspan x="3008" y="1945">重大工程）</tspan><tspan x="3008" y="1977">2. 流程图包括工程建设项目审批主要事项，未涵盖所有事</tspan><tspan x="3008" y="2009">项；</tspan><tspan x="3008" y="2041">3. 竣工验收阶段实施内容及参与部门以市房屋建筑和市政</tspan><tspan x="3008" y="2073">基础设施工程联合验收管理办法为准；</tspan><tspan x="3008" y="2105">4. 施工图联合审查实施内容及参与部门以市房屋建筑和市</tspan><tspan x="3008" y="2137">政基础设施工程施工图联合审查管理办法为准。</tspan><tspan x="3008" y="2168">5. 阶段审批时间不含中介服务时间，不包括公示、召开听</tspan><tspan x="3008" y="2200">证会和论证会时间。</tspan></text>
</g>
</svg>
